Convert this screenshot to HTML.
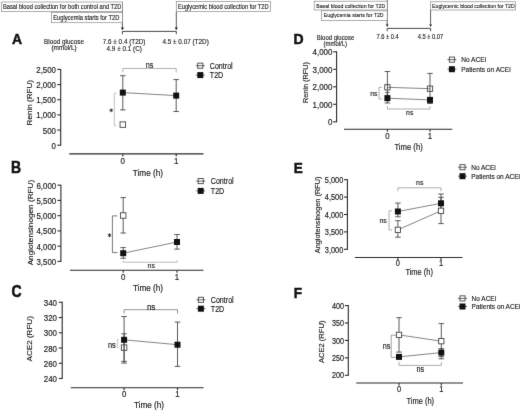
<!DOCTYPE html>
<html><head><meta charset="utf-8"><style>
html,body{margin:0;padding:0;background:#fff;width:520px;height:411px;overflow:hidden}
svg{display:block;font-family:"Liberation Sans", sans-serif;}
</style></head><body>
<svg width="520" height="411" viewBox="0 0 520 411">
<defs><filter id="bl" x="0" y="0" width="520" height="411" filterUnits="userSpaceOnUse" color-interpolation-filters="sRGB"><feConvolveMatrix order="3" kernelMatrix="0.00524 0.06192 0.00524 0.06192 0.73137 0.06192 0.00524 0.06192 0.00524" edgeMode="duplicate"/></filter></defs>
<rect width="520" height="411" fill="#fff"/>
<g filter="url(#bl)">
<line x1="122.4" y1="2.0" x2="122.4" y2="28.0" stroke="#333" stroke-width="0.8"/>
<line x1="176.3" y1="11.5" x2="176.3" y2="28.0" stroke="#333" stroke-width="0.8"/>
<rect x="1.3" y="2.0" width="121.10000000000001" height="9.4" fill="#fff" stroke="#8a8a8a" stroke-width="0.7"/>
<text font-size="5.72" text-anchor="start" font-weight="normal" fill="#1a1a1a" stroke="#1a1a1a" stroke-width="0.114" transform="translate(3.00,8.70) scale(1,1.15)" >Basal blood collection for both control and T2D</text>
<rect x="51.5" y="12.6" width="70.9" height="10.1" fill="#fff" stroke="#8a8a8a" stroke-width="0.7"/>
<text font-size="5.77" text-anchor="start" font-weight="normal" fill="#1a1a1a" stroke="#1a1a1a" stroke-width="0.115" transform="translate(53.20,19.60) scale(1,1.15)" >Euglycemia starts for T2D</text>
<rect x="176.3" y="1.5" width="94.30000000000001" height="10.0" fill="#fff" stroke="#8a8a8a" stroke-width="0.7"/>
<text font-size="5.72" text-anchor="start" font-weight="normal" fill="#1a1a1a" stroke="#1a1a1a" stroke-width="0.114" transform="translate(177.90,8.50) scale(1,1.15)" >Euglycemic blood collection for T2D</text>
<path d="M120.80000000000001,27.599999999999998 L124.0,27.599999999999998 L122.4,30.2 Z" fill="#222"/>
<path d="M174.70000000000002,27.599999999999998 L177.9,27.599999999999998 L176.3,30.2 Z" fill="#222"/>
<line x1="122.4" y1="31.4" x2="176.3" y2="31.4" stroke="#333" stroke-width="0.9"/>
<line x1="122.4" y1="31.4" x2="122.4" y2="34.2" stroke="#333" stroke-width="0.9"/>
<line x1="176.3" y1="31.4" x2="176.3" y2="34.2" stroke="#333" stroke-width="0.9"/>
<text font-size="14" text-anchor="start" font-weight="bold" fill="#111" stroke="#111" stroke-width="0.45" transform="translate(12.00,43.60) scale(1,1.1)" >A</text>
<text font-size="6.37" text-anchor="middle" font-weight="normal" fill="#222" stroke="#222" stroke-width="0.127" transform="translate(64.00,43.60) scale(1,1.15)" >Blood glucose</text>
<text font-size="6.37" text-anchor="middle" font-weight="normal" fill="#222" stroke="#222" stroke-width="0.127" transform="translate(64.00,50.40) scale(1,1.15)" >(mmol/L)</text>
<text font-size="6.37" text-anchor="middle" font-weight="normal" fill="#222" stroke="#222" stroke-width="0.127" transform="translate(124.10,43.70) scale(1,1.15)" >7.6 ± 0.4 (T2D)</text>
<text font-size="6.37" text-anchor="middle" font-weight="normal" fill="#222" stroke="#222" stroke-width="0.127" transform="translate(124.20,51.20) scale(1,1.15)" >4.9 ± 0.1 (C)</text>
<text font-size="6.37" text-anchor="middle" font-weight="normal" fill="#222" stroke="#222" stroke-width="0.127" transform="translate(185.60,43.70) scale(1,1.15)" >4.5 ± 0.07 (T2D)</text>
<line x1="60.7" y1="68.89999999999999" x2="60.7" y2="145.7" stroke="#2a2a2a" stroke-width="1.1"/>
<line x1="57.300000000000004" y1="145.2" x2="60.7" y2="145.2" stroke="#2a2a2a" stroke-width="1.1"/>
<text font-size="7.9" text-anchor="end" font-weight="normal" fill="#1a1a1a" stroke="#1a1a1a" stroke-width="0.158" transform="translate(56.00,148.68) scale(1,1.15)" >0</text>
<line x1="57.300000000000004" y1="130.04" x2="60.7" y2="130.04" stroke="#2a2a2a" stroke-width="1.1"/>
<text font-size="7.9" text-anchor="end" font-weight="normal" fill="#1a1a1a" stroke="#1a1a1a" stroke-width="0.158" transform="translate(56.00,133.52) scale(1,1.15)" >500</text>
<line x1="57.300000000000004" y1="114.88" x2="60.7" y2="114.88" stroke="#2a2a2a" stroke-width="1.1"/>
<text font-size="7.9" text-anchor="end" font-weight="normal" fill="#1a1a1a" stroke="#1a1a1a" stroke-width="0.158" transform="translate(56.00,118.36) scale(1,1.15)" >1,000</text>
<line x1="57.300000000000004" y1="99.71999999999998" x2="60.7" y2="99.71999999999998" stroke="#2a2a2a" stroke-width="1.1"/>
<text font-size="7.9" text-anchor="end" font-weight="normal" fill="#1a1a1a" stroke="#1a1a1a" stroke-width="0.158" transform="translate(56.00,103.20) scale(1,1.15)" >1,500</text>
<line x1="57.300000000000004" y1="84.55999999999999" x2="60.7" y2="84.55999999999999" stroke="#2a2a2a" stroke-width="1.1"/>
<text font-size="7.9" text-anchor="end" font-weight="normal" fill="#1a1a1a" stroke="#1a1a1a" stroke-width="0.158" transform="translate(56.00,88.04) scale(1,1.15)" >2,000</text>
<line x1="57.300000000000004" y1="69.39999999999999" x2="60.7" y2="69.39999999999999" stroke="#2a2a2a" stroke-width="1.1"/>
<text font-size="7.9" text-anchor="end" font-weight="normal" fill="#1a1a1a" stroke="#1a1a1a" stroke-width="0.158" transform="translate(56.00,72.88) scale(1,1.15)" >2,500</text>
<line x1="69.2" y1="153.9" x2="203.5" y2="153.9" stroke="#2a2a2a" stroke-width="1.1"/>
<line x1="122.8" y1="153.9" x2="122.8" y2="156.4" stroke="#2a2a2a" stroke-width="1.1"/>
<text font-size="7.9" text-anchor="middle" font-weight="normal" fill="#1a1a1a" stroke="#1a1a1a" stroke-width="0.158" transform="translate(122.80,163.90) scale(1,1.15)" >0</text>
<line x1="176.2" y1="153.9" x2="176.2" y2="156.4" stroke="#2a2a2a" stroke-width="1.1"/>
<text font-size="7.9" text-anchor="middle" font-weight="normal" fill="#1a1a1a" stroke="#1a1a1a" stroke-width="0.158" transform="translate(176.20,163.90) scale(1,1.15)" >1</text>
<text font-size="8.2" text-anchor="middle" font-weight="normal" fill="#222" stroke="#222" stroke-width="0.164" transform="translate(147.90,175.80) scale(1,1.15)" >Time (h)</text>
<text x="0" y="0" font-size="7.043" text-anchor="middle" fill="#1a1a1a" stroke="#1a1a1a" stroke-width="0.141" transform="translate(31.6,102.7) scale(1,1.15) rotate(-90)">Renin (RFU)</text>
<path d="M122.8,72.3 L122.8,68.5 L176.2,68.5 L176.2,72.3" fill="none" stroke="#a0a0a0" stroke-width="0.8"/>
<text font-size="7.2" text-anchor="middle" font-weight="normal" fill="#222" stroke="#222" stroke-width="0.144" transform="translate(149.60,67.90) scale(1,1.15)" >ns</text>
<path d="M116.5,93.3 L114.3,93.3 L114.3,125.7 L116.5,125.7" fill="none" stroke="#b0b0b0" stroke-width="0.8"/>
<path d="M111.20,108.50L111.20,112.10M112.76,109.40L109.64,111.20M112.76,111.20L109.64,109.40" stroke="#222" stroke-width="0.9" fill="none"/>
<line x1="122.8" y1="75.7" x2="122.8" y2="109.9" stroke="#484848" stroke-width="0.9"/>
<line x1="120.05" y1="75.7" x2="125.55" y2="75.7" stroke="#484848" stroke-width="0.9"/>
<line x1="120.05" y1="109.9" x2="125.55" y2="109.9" stroke="#484848" stroke-width="0.9"/>
<line x1="176.2" y1="79.6" x2="176.2" y2="111.5" stroke="#484848" stroke-width="0.9"/>
<line x1="173.45" y1="79.6" x2="178.95" y2="79.6" stroke="#484848" stroke-width="0.9"/>
<line x1="173.45" y1="111.5" x2="178.95" y2="111.5" stroke="#484848" stroke-width="0.9"/>
<line x1="122.8" y1="92.6" x2="176.2" y2="95.6" stroke="#666" stroke-width="0.8"/>
<rect x="120.05" y="121.85" width="5.5" height="5.5" fill="#fff" stroke="#444" stroke-width="0.9"/>
<rect x="119.8" y="89.6" width="6" height="6" fill="#111" stroke="none" stroke-width="1"/>
<rect x="173.2" y="92.6" width="6" height="6" fill="#111" stroke="none" stroke-width="1"/>
<line x1="195.8" y1="65.7" x2="204.8" y2="65.7" stroke="#444" stroke-width="0.8"/>
<rect x="197.75" y="63.150000000000006" width="5.1" height="5.1" fill="none" stroke="#444" stroke-width="0.9"/>
<line x1="195.8" y1="75.1" x2="204.8" y2="75.1" stroke="#444" stroke-width="0.8"/>
<rect x="197.3" y="72.1" width="6" height="6" fill="#111" stroke="none" stroke-width="1"/>
<text font-size="7.1" text-anchor="start" font-weight="normal" fill="#1a1a1a" stroke="#1a1a1a" stroke-width="0.142" transform="translate(209.80,68.75) scale(1,1.15)" >Control</text>
<text font-size="7.1" text-anchor="start" font-weight="normal" fill="#1a1a1a" stroke="#1a1a1a" stroke-width="0.142" transform="translate(209.80,78.15) scale(1,1.15)" >T2D</text>
<text font-size="14" text-anchor="start" font-weight="bold" fill="#111" stroke="#111" stroke-width="0.45" transform="translate(11.00,172.60) scale(1,1.12)" >B</text>
<line x1="60.9" y1="184.7" x2="60.9" y2="261.9" stroke="#2a2a2a" stroke-width="1.1"/>
<line x1="57.5" y1="261.4" x2="60.9" y2="261.4" stroke="#2a2a2a" stroke-width="1.1"/>
<text font-size="7.9" text-anchor="end" font-weight="normal" fill="#1a1a1a" stroke="#1a1a1a" stroke-width="0.158" transform="translate(56.20,264.88) scale(1,1.15)" >3,500</text>
<line x1="57.5" y1="246.15999999999997" x2="60.9" y2="246.15999999999997" stroke="#2a2a2a" stroke-width="1.1"/>
<text font-size="7.9" text-anchor="end" font-weight="normal" fill="#1a1a1a" stroke="#1a1a1a" stroke-width="0.158" transform="translate(56.20,249.64) scale(1,1.15)" >4,000</text>
<line x1="57.5" y1="230.92" x2="60.9" y2="230.92" stroke="#2a2a2a" stroke-width="1.1"/>
<text font-size="7.9" text-anchor="end" font-weight="normal" fill="#1a1a1a" stroke="#1a1a1a" stroke-width="0.158" transform="translate(56.20,234.40) scale(1,1.15)" >4,500</text>
<line x1="57.5" y1="215.67999999999998" x2="60.9" y2="215.67999999999998" stroke="#2a2a2a" stroke-width="1.1"/>
<text font-size="7.9" text-anchor="end" font-weight="normal" fill="#1a1a1a" stroke="#1a1a1a" stroke-width="0.158" transform="translate(56.20,219.16) scale(1,1.15)" >5,000</text>
<line x1="57.5" y1="200.43999999999997" x2="60.9" y2="200.43999999999997" stroke="#2a2a2a" stroke-width="1.1"/>
<text font-size="7.9" text-anchor="end" font-weight="normal" fill="#1a1a1a" stroke="#1a1a1a" stroke-width="0.158" transform="translate(56.20,203.92) scale(1,1.15)" >5,500</text>
<line x1="57.5" y1="185.2" x2="60.9" y2="185.2" stroke="#2a2a2a" stroke-width="1.1"/>
<text font-size="7.9" text-anchor="end" font-weight="normal" fill="#1a1a1a" stroke="#1a1a1a" stroke-width="0.158" transform="translate(56.20,188.68) scale(1,1.15)" >6,000</text>
<line x1="70" y1="270.3" x2="203.5" y2="270.3" stroke="#2a2a2a" stroke-width="1.1"/>
<line x1="123.2" y1="270.3" x2="123.2" y2="272.8" stroke="#2a2a2a" stroke-width="1.1"/>
<text font-size="7.9" text-anchor="middle" font-weight="normal" fill="#1a1a1a" stroke="#1a1a1a" stroke-width="0.158" transform="translate(123.20,279.80) scale(1,1.15)" >0</text>
<line x1="177" y1="270.3" x2="177" y2="272.8" stroke="#2a2a2a" stroke-width="1.1"/>
<text font-size="7.9" text-anchor="middle" font-weight="normal" fill="#1a1a1a" stroke="#1a1a1a" stroke-width="0.158" transform="translate(177.00,279.80) scale(1,1.15)" >1</text>
<text font-size="8.2" text-anchor="middle" font-weight="normal" fill="#222" stroke="#222" stroke-width="0.164" transform="translate(148.00,290.60) scale(1,1.15)" >Time (h)</text>
<text x="0" y="0" font-size="7.130" text-anchor="middle" fill="#1a1a1a" stroke="#1a1a1a" stroke-width="0.143" transform="translate(32.7,222.6) scale(1,1.15) rotate(-90)">Angiotensinogen (RFU)</text>
<path d="M117.4,215.9 L112.4,215.9 L112.4,252.6 L117.4,252.6" fill="none" stroke="#555" stroke-width="0.8"/>
<path d="M109.50,233.40L109.50,237.20M111.15,234.35L107.85,236.25M111.15,236.25L107.85,234.35" stroke="#222" stroke-width="0.9" fill="none"/>
<path d="M123.2,260.4 L123.2,262.2 L177,262.2 L177,260.4" fill="none" stroke="#a8a8a8" stroke-width="0.8"/>
<text font-size="7.0" text-anchor="middle" font-weight="normal" fill="#222" stroke="#222" stroke-width="0.140" transform="translate(151.20,267.80) scale(1,1.15)" >ns</text>
<line x1="123.2" y1="197.6" x2="123.2" y2="233" stroke="#484848" stroke-width="0.9"/>
<line x1="120.45" y1="197.6" x2="125.95" y2="197.6" stroke="#484848" stroke-width="0.9"/>
<line x1="120.45" y1="233" x2="125.95" y2="233" stroke="#484848" stroke-width="0.9"/>
<line x1="123.2" y1="247.6" x2="123.2" y2="258.3" stroke="#484848" stroke-width="0.9"/>
<line x1="120.45" y1="247.6" x2="125.95" y2="247.6" stroke="#484848" stroke-width="0.9"/>
<line x1="120.45" y1="258.3" x2="125.95" y2="258.3" stroke="#484848" stroke-width="0.9"/>
<line x1="177" y1="234.5" x2="177" y2="249.1" stroke="#484848" stroke-width="0.9"/>
<line x1="174.25" y1="234.5" x2="179.75" y2="234.5" stroke="#484848" stroke-width="0.9"/>
<line x1="174.25" y1="249.1" x2="179.75" y2="249.1" stroke="#484848" stroke-width="0.9"/>
<line x1="123.2" y1="253.2" x2="177" y2="242" stroke="#666" stroke-width="0.8"/>
<rect x="120.45" y="212.75" width="5.5" height="5.5" fill="#fff" stroke="#444" stroke-width="0.9"/>
<rect x="120.2" y="250.2" width="6" height="6" fill="#111" stroke="none" stroke-width="1"/>
<rect x="174.0" y="239.0" width="6" height="6" fill="#111" stroke="none" stroke-width="1"/>
<line x1="196.2" y1="181.1" x2="205.2" y2="181.1" stroke="#444" stroke-width="0.8"/>
<rect x="198.14999999999998" y="178.54999999999998" width="5.1" height="5.1" fill="none" stroke="#444" stroke-width="0.9"/>
<line x1="196.2" y1="190.9" x2="205.2" y2="190.9" stroke="#444" stroke-width="0.8"/>
<rect x="197.7" y="187.9" width="6" height="6" fill="#111" stroke="none" stroke-width="1"/>
<text font-size="7.1" text-anchor="start" font-weight="normal" fill="#1a1a1a" stroke="#1a1a1a" stroke-width="0.142" transform="translate(210.80,184.15) scale(1,1.15)" >Control</text>
<text font-size="7.1" text-anchor="start" font-weight="normal" fill="#1a1a1a" stroke="#1a1a1a" stroke-width="0.142" transform="translate(210.80,193.95) scale(1,1.15)" >T2D</text>
<text font-size="14" text-anchor="start" font-weight="bold" fill="#111" stroke="#111" stroke-width="0.45" transform="translate(11.40,297.00) scale(1,1.15)" >C</text>
<line x1="62.2" y1="301.8" x2="62.2" y2="379.0" stroke="#2a2a2a" stroke-width="1.1"/>
<line x1="58.800000000000004" y1="378.5" x2="62.2" y2="378.5" stroke="#2a2a2a" stroke-width="1.1"/>
<text font-size="7.9" text-anchor="end" font-weight="normal" fill="#1a1a1a" stroke="#1a1a1a" stroke-width="0.158" transform="translate(57.00,381.98) scale(1,1.15)" >240</text>
<line x1="58.800000000000004" y1="363.26" x2="62.2" y2="363.26" stroke="#2a2a2a" stroke-width="1.1"/>
<text font-size="7.9" text-anchor="end" font-weight="normal" fill="#1a1a1a" stroke="#1a1a1a" stroke-width="0.158" transform="translate(57.00,366.74) scale(1,1.15)" >260</text>
<line x1="58.800000000000004" y1="348.02" x2="62.2" y2="348.02" stroke="#2a2a2a" stroke-width="1.1"/>
<text font-size="7.9" text-anchor="end" font-weight="normal" fill="#1a1a1a" stroke="#1a1a1a" stroke-width="0.158" transform="translate(57.00,351.50) scale(1,1.15)" >280</text>
<line x1="58.800000000000004" y1="332.78" x2="62.2" y2="332.78" stroke="#2a2a2a" stroke-width="1.1"/>
<text font-size="7.9" text-anchor="end" font-weight="normal" fill="#1a1a1a" stroke="#1a1a1a" stroke-width="0.158" transform="translate(57.00,336.26) scale(1,1.15)" >300</text>
<line x1="58.800000000000004" y1="317.54" x2="62.2" y2="317.54" stroke="#2a2a2a" stroke-width="1.1"/>
<text font-size="7.9" text-anchor="end" font-weight="normal" fill="#1a1a1a" stroke="#1a1a1a" stroke-width="0.158" transform="translate(57.00,321.02) scale(1,1.15)" >320</text>
<line x1="58.800000000000004" y1="302.3" x2="62.2" y2="302.3" stroke="#2a2a2a" stroke-width="1.1"/>
<text font-size="7.9" text-anchor="end" font-weight="normal" fill="#1a1a1a" stroke="#1a1a1a" stroke-width="0.158" transform="translate(57.00,305.78) scale(1,1.15)" >340</text>
<line x1="70.7" y1="387.7" x2="203.6" y2="387.7" stroke="#2a2a2a" stroke-width="1.1"/>
<line x1="124.1" y1="387.7" x2="124.1" y2="390.2" stroke="#2a2a2a" stroke-width="1.1"/>
<text font-size="7.9" text-anchor="middle" font-weight="normal" fill="#1a1a1a" stroke="#1a1a1a" stroke-width="0.158" transform="translate(124.10,396.90) scale(1,1.15)" >0</text>
<line x1="177.5" y1="387.7" x2="177.5" y2="390.2" stroke="#2a2a2a" stroke-width="1.1"/>
<text font-size="7.9" text-anchor="middle" font-weight="normal" fill="#1a1a1a" stroke="#1a1a1a" stroke-width="0.158" transform="translate(177.50,396.90) scale(1,1.15)" >1</text>
<text font-size="8.2" text-anchor="middle" font-weight="normal" fill="#222" stroke="#222" stroke-width="0.164" transform="translate(149.00,408.30) scale(1,1.15)" >Time (h)</text>
<text x="0" y="0" font-size="7.043" text-anchor="middle" fill="#1a1a1a" stroke="#1a1a1a" stroke-width="0.141" transform="translate(31.6,338.8) scale(1,1.15) rotate(-90)">ACE2 (RFU)</text>
<path d="M118.89999999999999,339.8 L117.3,339.8 L117.3,347.6 L118.89999999999999,347.6" fill="none" stroke="#b8b8b8" stroke-width="0.8"/>
<text font-size="7.4" text-anchor="middle" font-weight="normal" fill="#222" stroke="#222" stroke-width="0.148" transform="translate(111.80,347.60) scale(1,1.15)" >ns</text>
<path d="M124.1,313.59999999999997 L124.1,309.7 L177.5,309.7 L177.5,313.59999999999997" fill="none" stroke="#777" stroke-width="0.8"/>
<text font-size="8.0" text-anchor="middle" font-weight="normal" fill="#222" stroke="#222" stroke-width="0.160" transform="translate(151.10,309.90) scale(1,1.15)" >ns</text>
<line x1="124.1" y1="316.5" x2="124.1" y2="363.1" stroke="#484848" stroke-width="0.9"/>
<line x1="121.35" y1="316.5" x2="126.85" y2="316.5" stroke="#484848" stroke-width="0.9"/>
<line x1="121.35" y1="363.1" x2="126.85" y2="363.1" stroke="#484848" stroke-width="0.9"/>
<line x1="124.1" y1="333.8" x2="124.1" y2="361.4" stroke="#484848" stroke-width="0.9"/>
<line x1="121.35" y1="333.8" x2="126.85" y2="333.8" stroke="#484848" stroke-width="0.9"/>
<line x1="121.35" y1="361.4" x2="126.85" y2="361.4" stroke="#484848" stroke-width="0.9"/>
<line x1="177.5" y1="322.1" x2="177.5" y2="366.4" stroke="#484848" stroke-width="0.9"/>
<line x1="174.75" y1="322.1" x2="180.25" y2="322.1" stroke="#484848" stroke-width="0.9"/>
<line x1="174.75" y1="366.4" x2="180.25" y2="366.4" stroke="#484848" stroke-width="0.9"/>
<line x1="124.1" y1="339.8" x2="177.5" y2="344.7" stroke="#666" stroke-width="0.8"/>
<rect x="121.35" y="344.85" width="5.5" height="5.5" fill="none" stroke="#444" stroke-width="0.9"/>
<rect x="121.1" y="336.8" width="6" height="6" fill="#111" stroke="none" stroke-width="1"/>
<rect x="174.5" y="341.7" width="6" height="6" fill="#111" stroke="none" stroke-width="1"/>
<line x1="196.4" y1="299.8" x2="205.4" y2="299.8" stroke="#444" stroke-width="0.8"/>
<rect x="198.35" y="297.25" width="5.1" height="5.1" fill="none" stroke="#444" stroke-width="0.9"/>
<line x1="196.4" y1="308.7" x2="205.4" y2="308.7" stroke="#444" stroke-width="0.8"/>
<rect x="197.9" y="305.7" width="6" height="6" fill="#111" stroke="none" stroke-width="1"/>
<text font-size="7.1" text-anchor="start" font-weight="normal" fill="#1a1a1a" stroke="#1a1a1a" stroke-width="0.142" transform="translate(210.80,302.85) scale(1,1.15)" >Control</text>
<text font-size="7.1" text-anchor="start" font-weight="normal" fill="#1a1a1a" stroke="#1a1a1a" stroke-width="0.142" transform="translate(210.80,311.75) scale(1,1.15)" >T2D</text>
<line x1="387.2" y1="0" x2="387.2" y2="25.0" stroke="#333" stroke-width="0.8"/>
<line x1="430.6" y1="10.0" x2="430.6" y2="25.0" stroke="#333" stroke-width="0.8"/>
<rect x="314.2" y="1.2" width="73.0" height="8.8" fill="#fff" stroke="#8a8a8a" stroke-width="0.7"/>
<text font-size="5.22" text-anchor="start" font-weight="normal" fill="#1a1a1a" stroke="#1a1a1a" stroke-width="0.104" transform="translate(316.20,7.70) scale(1,1.15)" >Basal blood collection for T2D</text>
<rect x="321.5" y="10.8" width="65.69999999999999" height="9.599999999999998" fill="#fff" stroke="#8a8a8a" stroke-width="0.7"/>
<text font-size="5.21" text-anchor="start" font-weight="normal" fill="#1a1a1a" stroke="#1a1a1a" stroke-width="0.104" transform="translate(323.80,17.40) scale(1,1.15)" >Euglycemia starts for T2D</text>
<rect x="430.6" y="1.8" width="85.0" height="8.2" fill="#fff" stroke="#8a8a8a" stroke-width="0.7"/>
<text font-size="5.22" text-anchor="start" font-weight="normal" fill="#1a1a1a" stroke="#1a1a1a" stroke-width="0.104" transform="translate(432.10,7.80) scale(1,1.15)" >Euglycemic blood collection for T2D</text>
<path d="M385.8,24.4 L388.59999999999997,24.4 L387.2,27.0 Z" fill="#222"/>
<path d="M429.20000000000005,24.4 L432.0,24.4 L430.6,27.0 Z" fill="#222"/>
<line x1="387.2" y1="28.4" x2="430.6" y2="28.4" stroke="#333" stroke-width="0.9"/>
<line x1="387.2" y1="28.4" x2="387.2" y2="31.2" stroke="#333" stroke-width="0.9"/>
<line x1="430.6" y1="28.4" x2="430.6" y2="31.2" stroke="#333" stroke-width="0.9"/>
<text font-size="14" text-anchor="start" font-weight="bold" fill="#111" stroke="#111" stroke-width="0.45" transform="translate(293.50,43.60) scale(1,1.1)" >D</text>
<text font-size="5.97" text-anchor="middle" font-weight="normal" fill="#222" stroke="#222" stroke-width="0.119" transform="translate(335.50,39.80) scale(1,1.15)" >Blood glucose</text>
<text font-size="5.97" text-anchor="middle" font-weight="normal" fill="#222" stroke="#222" stroke-width="0.119" transform="translate(335.30,45.60) scale(1,1.15)" >(mmol/L)</text>
<text font-size="5.76" text-anchor="middle" font-weight="normal" fill="#222" stroke="#222" stroke-width="0.115" transform="translate(387.60,39.30) scale(1,1.15)" >7.6 ± 0.4</text>
<text font-size="5.76" text-anchor="middle" font-weight="normal" fill="#222" stroke="#222" stroke-width="0.115" transform="translate(430.50,39.30) scale(1,1.15)" >4.5 ± 0.07</text>
<line x1="336.6" y1="51.3" x2="336.6" y2="122.3" stroke="#2a2a2a" stroke-width="1.1"/>
<line x1="333.20000000000005" y1="121.8" x2="336.6" y2="121.8" stroke="#2a2a2a" stroke-width="1.1"/>
<text font-size="8.0" text-anchor="end" font-weight="normal" fill="#1a1a1a" stroke="#1a1a1a" stroke-width="0.160" transform="translate(332.50,125.32) scale(1,1.15)" >0</text>
<line x1="333.20000000000005" y1="104.3" x2="336.6" y2="104.3" stroke="#2a2a2a" stroke-width="1.1"/>
<text font-size="8.0" text-anchor="end" font-weight="normal" fill="#1a1a1a" stroke="#1a1a1a" stroke-width="0.160" transform="translate(332.50,107.82) scale(1,1.15)" >1,000</text>
<line x1="333.20000000000005" y1="86.8" x2="336.6" y2="86.8" stroke="#2a2a2a" stroke-width="1.1"/>
<text font-size="8.0" text-anchor="end" font-weight="normal" fill="#1a1a1a" stroke="#1a1a1a" stroke-width="0.160" transform="translate(332.50,90.32) scale(1,1.15)" >2,000</text>
<line x1="333.20000000000005" y1="69.3" x2="336.6" y2="69.3" stroke="#2a2a2a" stroke-width="1.1"/>
<text font-size="8.0" text-anchor="end" font-weight="normal" fill="#1a1a1a" stroke="#1a1a1a" stroke-width="0.160" transform="translate(332.50,72.82) scale(1,1.15)" >3,000</text>
<line x1="333.20000000000005" y1="51.8" x2="336.6" y2="51.8" stroke="#2a2a2a" stroke-width="1.1"/>
<text font-size="8.0" text-anchor="end" font-weight="normal" fill="#1a1a1a" stroke="#1a1a1a" stroke-width="0.160" transform="translate(332.50,55.32) scale(1,1.15)" >4,000</text>
<line x1="344" y1="129.3" x2="452.2" y2="129.3" stroke="#2a2a2a" stroke-width="1.1"/>
<line x1="387.4" y1="129.3" x2="387.4" y2="131.8" stroke="#2a2a2a" stroke-width="1.1"/>
<text font-size="7.9" text-anchor="middle" font-weight="normal" fill="#1a1a1a" stroke="#1a1a1a" stroke-width="0.158" transform="translate(387.40,138.80) scale(1,1.15)" >0</text>
<line x1="430" y1="129.3" x2="430" y2="131.8" stroke="#2a2a2a" stroke-width="1.1"/>
<text font-size="7.9" text-anchor="middle" font-weight="normal" fill="#1a1a1a" stroke="#1a1a1a" stroke-width="0.158" transform="translate(430.00,138.80) scale(1,1.15)" >1</text>
<text font-size="7.7" text-anchor="middle" font-weight="normal" fill="#222" stroke="#222" stroke-width="0.154" transform="translate(408.60,150.40) scale(1,1.15)" >Time (h)</text>
<text x="0" y="0" font-size="6.348" text-anchor="middle" fill="#1a1a1a" stroke="#1a1a1a" stroke-width="0.127" transform="translate(308.2,82.6) scale(1,1.15) rotate(-90)">Renin (RFU)</text>
<path d="M382.0,87.4 L379,87.4 L379,99.0 L382.0,99.0" fill="none" stroke="#999" stroke-width="0.8"/>
<text font-size="6.8" text-anchor="middle" font-weight="normal" fill="#222" stroke="#222" stroke-width="0.136" transform="translate(373.90,95.60) scale(1,1.15)" >ns</text>
<path d="M387.4,106.1 L387.4,109 L430,109 L430,106.1" fill="none" stroke="#999" stroke-width="0.8"/>
<text font-size="6.8" text-anchor="middle" font-weight="normal" fill="#222" stroke="#222" stroke-width="0.136" transform="translate(409.70,115.00) scale(1,1.15)" >ns</text>
<line x1="387.4" y1="71.5" x2="387.4" y2="103.0" stroke="#484848" stroke-width="0.9"/>
<line x1="384.65" y1="71.5" x2="390.15" y2="71.5" stroke="#484848" stroke-width="0.9"/>
<line x1="384.65" y1="103.0" x2="390.15" y2="103.0" stroke="#484848" stroke-width="0.9"/>
<line x1="387.4" y1="92.4" x2="387.4" y2="95.3" stroke="#484848" stroke-width="0.9"/>
<line x1="385.15" y1="92.4" x2="389.65" y2="92.4" stroke="#484848" stroke-width="0.9"/>
<line x1="385.15" y1="95.3" x2="389.65" y2="95.3" stroke="#484848" stroke-width="0.9"/>
<line x1="430" y1="73.4" x2="430" y2="103.5" stroke="#484848" stroke-width="0.9"/>
<line x1="427.25" y1="73.4" x2="432.75" y2="73.4" stroke="#484848" stroke-width="0.9"/>
<line x1="427.25" y1="103.5" x2="432.75" y2="103.5" stroke="#484848" stroke-width="0.9"/>
<line x1="387.4" y1="87.3" x2="430" y2="88.7" stroke="#666" stroke-width="0.8"/>
<line x1="387.4" y1="98.2" x2="430" y2="99.9" stroke="#666" stroke-width="0.8"/>
<rect x="384.74999999999994" y="84.65" width="5.3" height="5.3" fill="none" stroke="#444" stroke-width="0.9"/>
<rect x="427.34999999999997" y="86.05000000000001" width="5.3" height="5.3" fill="none" stroke="#444" stroke-width="0.9"/>
<rect x="384.4" y="95.2" width="6" height="6" fill="#111" stroke="none" stroke-width="1"/>
<rect x="427.0" y="96.9" width="6" height="6" fill="#111" stroke="none" stroke-width="1"/>
<line x1="447.4" y1="59.6" x2="456.4" y2="59.6" stroke="#444" stroke-width="0.8"/>
<rect x="449.34999999999997" y="57.050000000000004" width="5.1" height="5.1" fill="none" stroke="#444" stroke-width="0.9"/>
<line x1="447.4" y1="69.2" x2="456.4" y2="69.2" stroke="#444" stroke-width="0.8"/>
<rect x="448.9" y="66.2" width="6" height="6" fill="#111" stroke="none" stroke-width="1"/>
<text font-size="6.6" text-anchor="start" font-weight="normal" fill="#1a1a1a" stroke="#1a1a1a" stroke-width="0.132" transform="translate(461.20,62.44) scale(1,1.15)" >No ACEi</text>
<text font-size="6.6" text-anchor="start" font-weight="normal" fill="#1a1a1a" stroke="#1a1a1a" stroke-width="0.132" transform="translate(461.20,72.04) scale(1,1.15)" >Patients on ACEi</text>
<text font-size="13.5" text-anchor="start" font-weight="bold" fill="#111" stroke="#111" stroke-width="0.45" transform="translate(293.80,172.70) scale(1,1.1)" >E</text>
<line x1="347.4" y1="179.20000000000002" x2="347.4" y2="249.8" stroke="#2a2a2a" stroke-width="1.1"/>
<line x1="344.0" y1="249.3" x2="347.4" y2="249.3" stroke="#2a2a2a" stroke-width="1.1"/>
<text font-size="7.4" text-anchor="end" font-weight="normal" fill="#1a1a1a" stroke="#1a1a1a" stroke-width="0.148" transform="translate(343.30,252.56) scale(1,1.15)" >3,000</text>
<line x1="344.0" y1="231.9" x2="347.4" y2="231.9" stroke="#2a2a2a" stroke-width="1.1"/>
<text font-size="7.4" text-anchor="end" font-weight="normal" fill="#1a1a1a" stroke="#1a1a1a" stroke-width="0.148" transform="translate(343.30,235.16) scale(1,1.15)" >3,500</text>
<line x1="344.0" y1="214.5" x2="347.4" y2="214.5" stroke="#2a2a2a" stroke-width="1.1"/>
<text font-size="7.4" text-anchor="end" font-weight="normal" fill="#1a1a1a" stroke="#1a1a1a" stroke-width="0.148" transform="translate(343.30,217.76) scale(1,1.15)" >4,000</text>
<line x1="344.0" y1="197.10000000000002" x2="347.4" y2="197.10000000000002" stroke="#2a2a2a" stroke-width="1.1"/>
<text font-size="7.4" text-anchor="end" font-weight="normal" fill="#1a1a1a" stroke="#1a1a1a" stroke-width="0.148" transform="translate(343.30,200.36) scale(1,1.15)" >4,500</text>
<line x1="344.0" y1="179.70000000000002" x2="347.4" y2="179.70000000000002" stroke="#2a2a2a" stroke-width="1.1"/>
<text font-size="7.4" text-anchor="end" font-weight="normal" fill="#1a1a1a" stroke="#1a1a1a" stroke-width="0.148" transform="translate(343.30,182.96) scale(1,1.15)" >5,000</text>
<line x1="354.9" y1="257.5" x2="462.4" y2="257.5" stroke="#2a2a2a" stroke-width="1.1"/>
<line x1="397.9" y1="257.5" x2="397.9" y2="260.0" stroke="#2a2a2a" stroke-width="1.1"/>
<text font-size="7.5" text-anchor="middle" font-weight="normal" fill="#1a1a1a" stroke="#1a1a1a" stroke-width="0.150" transform="translate(397.90,266.10) scale(1,1.15)" >0</text>
<line x1="441.0" y1="257.5" x2="441.0" y2="260.0" stroke="#2a2a2a" stroke-width="1.1"/>
<text font-size="7.5" text-anchor="middle" font-weight="normal" fill="#1a1a1a" stroke="#1a1a1a" stroke-width="0.150" transform="translate(441.00,266.10) scale(1,1.15)" >1</text>
<text font-size="7.5" text-anchor="middle" font-weight="normal" fill="#222" stroke="#222" stroke-width="0.150" transform="translate(419.20,275.10) scale(1,1.15)" >Time (h)</text>
<text x="0" y="0" font-size="6.391" text-anchor="middle" fill="#1a1a1a" stroke="#1a1a1a" stroke-width="0.128" transform="translate(319.6,214.9) scale(1,1.15) rotate(-90)">Angiotensinogen (RFU)</text>
<path d="M397.9,191.20000000000002 L397.9,187.8 L441.0,187.8 L441.0,191.20000000000002" fill="none" stroke="#999" stroke-width="0.8"/>
<text font-size="7.0" text-anchor="middle" font-weight="normal" fill="#222" stroke="#222" stroke-width="0.140" transform="translate(419.70,184.50) scale(1,1.15)" >ns</text>
<path d="M392.0,210.8 L389,210.8 L389,229.9 L392.0,229.9" fill="none" stroke="#999" stroke-width="0.8"/>
<text font-size="7.0" text-anchor="middle" font-weight="normal" fill="#222" stroke="#222" stroke-width="0.140" transform="translate(383.10,223.00) scale(1,1.15)" >ns</text>
<line x1="397.9" y1="203.1" x2="397.9" y2="216.8" stroke="#484848" stroke-width="0.9"/>
<line x1="395.15" y1="203.1" x2="400.65" y2="203.1" stroke="#484848" stroke-width="0.9"/>
<line x1="395.15" y1="216.8" x2="400.65" y2="216.8" stroke="#484848" stroke-width="0.9"/>
<line x1="397.9" y1="220.7" x2="397.9" y2="237.2" stroke="#484848" stroke-width="0.9"/>
<line x1="395.15" y1="220.7" x2="400.65" y2="220.7" stroke="#484848" stroke-width="0.9"/>
<line x1="395.15" y1="237.2" x2="400.65" y2="237.2" stroke="#484848" stroke-width="0.9"/>
<line x1="441.0" y1="194" x2="441.0" y2="223.6" stroke="#484848" stroke-width="0.9"/>
<line x1="438.25" y1="194" x2="443.75" y2="194" stroke="#484848" stroke-width="0.9"/>
<line x1="438.25" y1="223.6" x2="443.75" y2="223.6" stroke="#484848" stroke-width="0.9"/>
<line x1="441.0" y1="197.3" x2="441.0" y2="209.5" stroke="#484848" stroke-width="0.9"/>
<line x1="438.25" y1="197.3" x2="443.75" y2="197.3" stroke="#484848" stroke-width="0.9"/>
<line x1="438.25" y1="209.5" x2="443.75" y2="209.5" stroke="#484848" stroke-width="0.9"/>
<line x1="397.9" y1="211.5" x2="441.0" y2="203.3" stroke="#666" stroke-width="0.8"/>
<line x1="397.9" y1="229.8" x2="441.0" y2="210.8" stroke="#666" stroke-width="0.8"/>
<rect x="395.24999999999994" y="227.15" width="5.3" height="5.3" fill="#fff" stroke="#444" stroke-width="0.9"/>
<rect x="438.34999999999997" y="208.15" width="5.3" height="5.3" fill="#fff" stroke="#444" stroke-width="0.9"/>
<rect x="394.9" y="208.5" width="6" height="6" fill="#111" stroke="none" stroke-width="1"/>
<rect x="438.0" y="200.3" width="6" height="6" fill="#111" stroke="none" stroke-width="1"/>
<line x1="458.0" y1="167.2" x2="467.0" y2="167.2" stroke="#444" stroke-width="0.8"/>
<rect x="459.95" y="164.64999999999998" width="5.1" height="5.1" fill="none" stroke="#444" stroke-width="0.9"/>
<line x1="458.0" y1="176.2" x2="467.0" y2="176.2" stroke="#444" stroke-width="0.8"/>
<rect x="459.5" y="173.2" width="6" height="6" fill="#111" stroke="none" stroke-width="1"/>
<text font-size="6.5" text-anchor="start" font-weight="normal" fill="#1a1a1a" stroke="#1a1a1a" stroke-width="0.130" transform="translate(471.20,169.99) scale(1,1.15)" >No ACEi</text>
<text font-size="6.5" text-anchor="start" font-weight="normal" fill="#1a1a1a" stroke="#1a1a1a" stroke-width="0.130" transform="translate(471.20,178.99) scale(1,1.15)" >Patients on ACEi</text>
<text font-size="13.5" text-anchor="start" font-weight="bold" fill="#111" stroke="#111" stroke-width="0.45" transform="translate(293.80,297.70) scale(1,1.1)" >F</text>
<line x1="348.3" y1="305.08000000000004" x2="348.3" y2="375.8" stroke="#2a2a2a" stroke-width="1.1"/>
<line x1="344.90000000000003" y1="375.3" x2="348.3" y2="375.3" stroke="#2a2a2a" stroke-width="1.1"/>
<text font-size="7.2" text-anchor="end" font-weight="normal" fill="#1a1a1a" stroke="#1a1a1a" stroke-width="0.144" transform="translate(344.10,378.47) scale(1,1.15)" >200</text>
<line x1="344.90000000000003" y1="357.87" x2="348.3" y2="357.87" stroke="#2a2a2a" stroke-width="1.1"/>
<text font-size="7.2" text-anchor="end" font-weight="normal" fill="#1a1a1a" stroke="#1a1a1a" stroke-width="0.144" transform="translate(344.10,361.04) scale(1,1.15)" >250</text>
<line x1="344.90000000000003" y1="340.44" x2="348.3" y2="340.44" stroke="#2a2a2a" stroke-width="1.1"/>
<text font-size="7.2" text-anchor="end" font-weight="normal" fill="#1a1a1a" stroke="#1a1a1a" stroke-width="0.144" transform="translate(344.10,343.61) scale(1,1.15)" >300</text>
<line x1="344.90000000000003" y1="323.01" x2="348.3" y2="323.01" stroke="#2a2a2a" stroke-width="1.1"/>
<text font-size="7.2" text-anchor="end" font-weight="normal" fill="#1a1a1a" stroke="#1a1a1a" stroke-width="0.144" transform="translate(344.10,326.18) scale(1,1.15)" >350</text>
<line x1="344.90000000000003" y1="305.58000000000004" x2="348.3" y2="305.58000000000004" stroke="#2a2a2a" stroke-width="1.1"/>
<text font-size="7.2" text-anchor="end" font-weight="normal" fill="#1a1a1a" stroke="#1a1a1a" stroke-width="0.144" transform="translate(344.10,308.75) scale(1,1.15)" >400</text>
<line x1="356.2" y1="383.0" x2="463" y2="383.0" stroke="#2a2a2a" stroke-width="1.1"/>
<line x1="399" y1="383.0" x2="399" y2="385.5" stroke="#2a2a2a" stroke-width="1.1"/>
<text font-size="7.5" text-anchor="middle" font-weight="normal" fill="#1a1a1a" stroke="#1a1a1a" stroke-width="0.150" transform="translate(399.00,392.00) scale(1,1.15)" >0</text>
<line x1="441.3" y1="383.0" x2="441.3" y2="385.5" stroke="#2a2a2a" stroke-width="1.1"/>
<text font-size="7.5" text-anchor="middle" font-weight="normal" fill="#1a1a1a" stroke="#1a1a1a" stroke-width="0.150" transform="translate(441.30,392.00) scale(1,1.15)" >1</text>
<text font-size="7.5" text-anchor="middle" font-weight="normal" fill="#222" stroke="#222" stroke-width="0.150" transform="translate(420.30,403.80) scale(1,1.15)" >Time (h)</text>
<text x="0" y="0" font-size="6.609" text-anchor="middle" fill="#1a1a1a" stroke="#1a1a1a" stroke-width="0.132" transform="translate(323.8,341.8) scale(1,1.15) rotate(-90)">ACE2 (RFU)</text>
<path d="M396.2,335.2 L391.2,335.2 L391.2,357.4 L396.2,357.4" fill="none" stroke="#888" stroke-width="0.8"/>
<text font-size="7.2" text-anchor="middle" font-weight="normal" fill="#222" stroke="#222" stroke-width="0.144" transform="translate(386.50,349.20) scale(1,1.15)" >ns</text>
<path d="M399,362.0 L399,365.4 L441.3,365.4 L441.3,362.0" fill="none" stroke="#999" stroke-width="0.8"/>
<text font-size="7.2" text-anchor="middle" font-weight="normal" fill="#222" stroke="#222" stroke-width="0.144" transform="translate(420.20,371.90) scale(1,1.15)" >ns</text>
<line x1="399" y1="317.7" x2="399" y2="352.1" stroke="#484848" stroke-width="0.9"/>
<line x1="396.25" y1="317.7" x2="401.75" y2="317.7" stroke="#484848" stroke-width="0.9"/>
<line x1="396.25" y1="352.1" x2="401.75" y2="352.1" stroke="#484848" stroke-width="0.9"/>
<line x1="441.3" y1="323.6" x2="441.3" y2="358.8" stroke="#484848" stroke-width="0.9"/>
<line x1="438.55" y1="323.6" x2="444.05" y2="323.6" stroke="#484848" stroke-width="0.9"/>
<line x1="438.55" y1="358.8" x2="444.05" y2="358.8" stroke="#484848" stroke-width="0.9"/>
<line x1="441.3" y1="348.6" x2="441.3" y2="356.6" stroke="#484848" stroke-width="0.9"/>
<line x1="438.55" y1="348.6" x2="444.05" y2="348.6" stroke="#484848" stroke-width="0.9"/>
<line x1="438.55" y1="356.6" x2="444.05" y2="356.6" stroke="#484848" stroke-width="0.9"/>
<line x1="399" y1="334.9" x2="441.3" y2="341.2" stroke="#666" stroke-width="0.8"/>
<line x1="399" y1="356.9" x2="441.3" y2="352.6" stroke="#666" stroke-width="0.8"/>
<rect x="396.34999999999997" y="332.24999999999994" width="5.3" height="5.3" fill="#fff" stroke="#444" stroke-width="0.9"/>
<rect x="438.65" y="338.54999999999995" width="5.3" height="5.3" fill="#fff" stroke="#444" stroke-width="0.9"/>
<rect x="396.0" y="353.9" width="6" height="6" fill="#111" stroke="none" stroke-width="1"/>
<rect x="438.3" y="349.6" width="6" height="6" fill="#111" stroke="none" stroke-width="1"/>
<line x1="458.0" y1="298.4" x2="467.0" y2="298.4" stroke="#444" stroke-width="0.8"/>
<rect x="459.95" y="295.84999999999997" width="5.1" height="5.1" fill="none" stroke="#444" stroke-width="0.9"/>
<line x1="458.0" y1="306.5" x2="467.0" y2="306.5" stroke="#444" stroke-width="0.8"/>
<rect x="459.5" y="303.5" width="6" height="6" fill="#111" stroke="none" stroke-width="1"/>
<text font-size="6.5" text-anchor="start" font-weight="normal" fill="#1a1a1a" stroke="#1a1a1a" stroke-width="0.130" transform="translate(471.60,301.19) scale(1,1.15)" >No ACEi</text>
<text font-size="6.5" text-anchor="start" font-weight="normal" fill="#1a1a1a" stroke="#1a1a1a" stroke-width="0.130" transform="translate(471.60,309.30) scale(1,1.15)" >Patients on ACEi</text>
</g>
</svg>
</body></html>
